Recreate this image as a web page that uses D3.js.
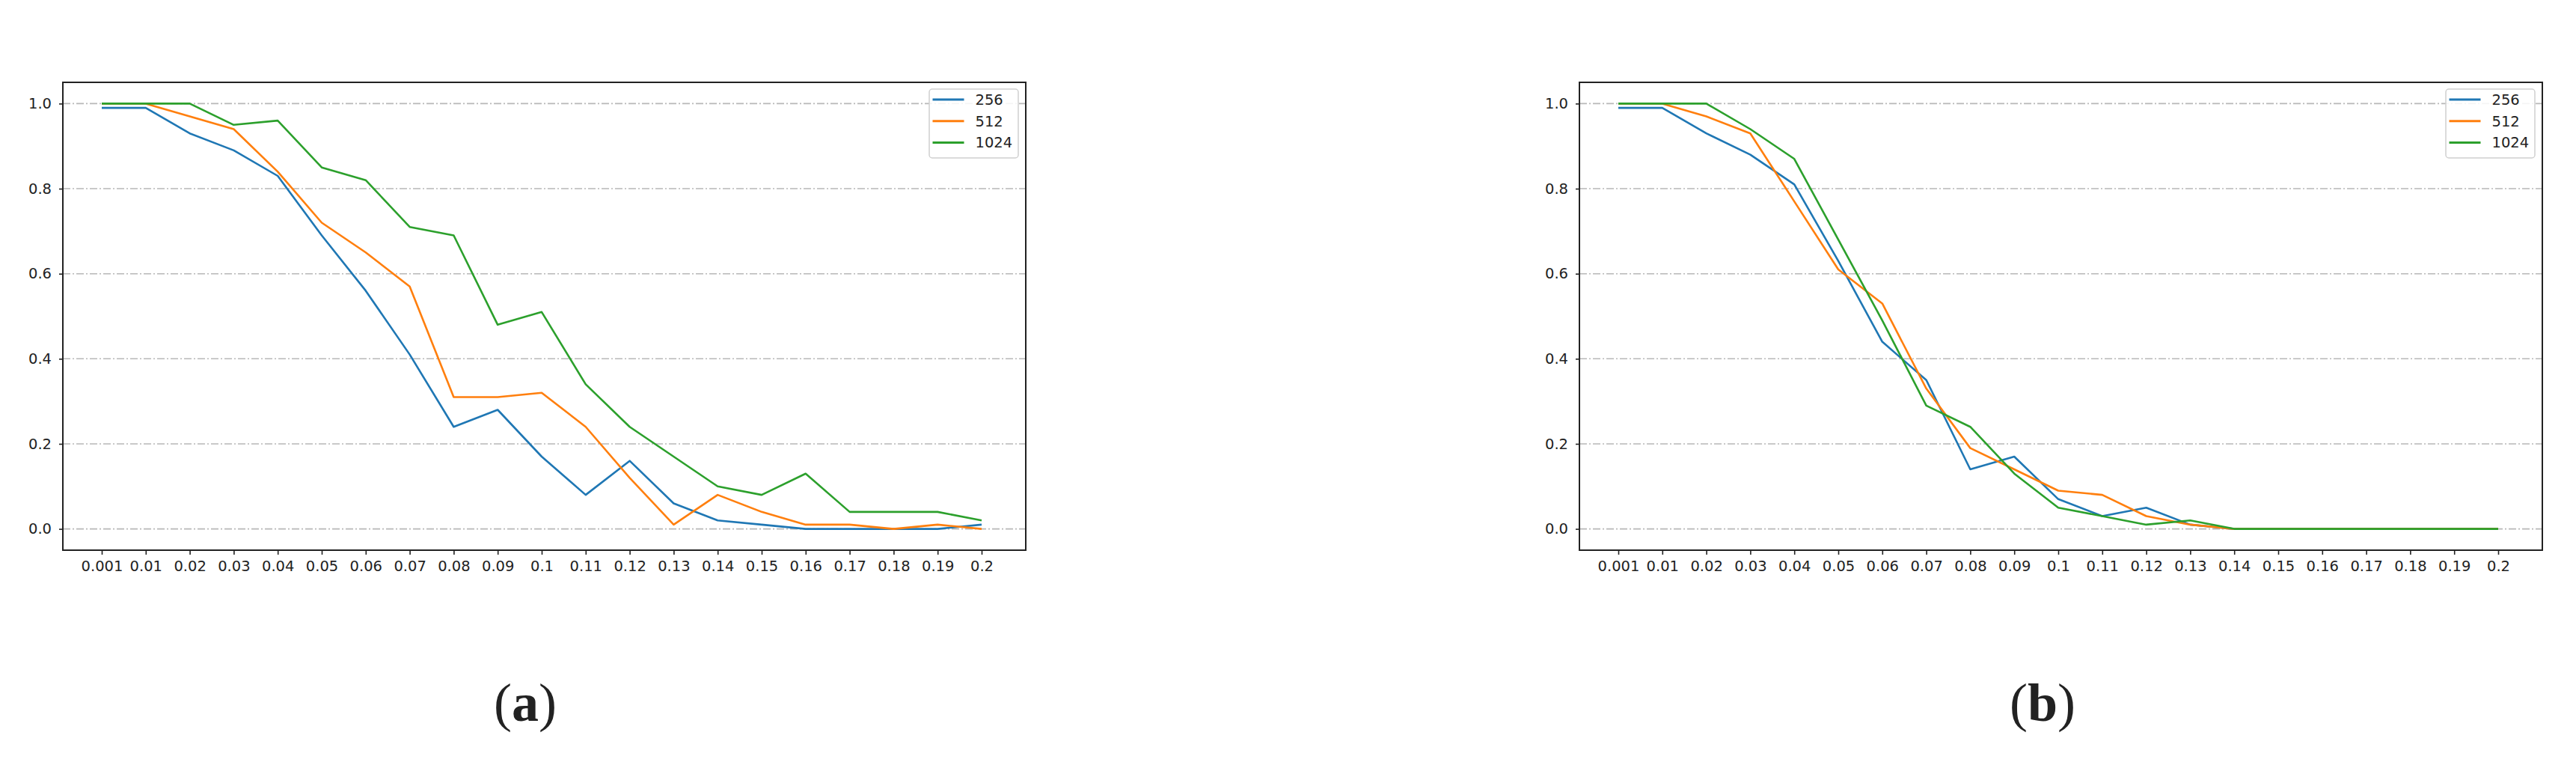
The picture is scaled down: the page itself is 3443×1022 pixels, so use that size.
<!DOCTYPE html>
<html>
<head>
<meta charset="utf-8">
<script src="https://cdn.jsdelivr.net/npm/d3@7"></script>
<style>
  body { margin: 0; background: #fff; }
  text { font-family: "DejaVu Sans", sans-serif; fill: #222; }
</style>
</head>
<body>
<div id="chart"></div>
<script>
// x categories (noise level)
const xLabels = ["0.001", "0.01", "0.02", "0.03", "0.04", "0.05", "0.06", "0.07", "0.08", "0.09", "0.1",
  "0.11", "0.12", "0.13", "0.14", "0.15", "0.16", "0.17", "0.18", "0.19", "0.2"];
const yTicks = [0, 0.2, 0.4, 0.6, 0.8, 1.0];
const seriesNames = ["256", "512", "1024"];
const colors = ["#1f77b4", "#ff7f0e", "#2ca02c"];

// panel (a)
const a256 = [0.99, 0.99, 0.93, 0.89, 0.83, 0.69, 0.56, 0.41, 0.24, 0.28, 0.17, 0.08, 0.16, 0.06, 0.02, 0.01, 0, 0, 0, 0, 0.01];
const a512 = [1.0, 1.0, 0.97, 0.94, 0.84, 0.72, 0.65, 0.57, 0.31, 0.31, 0.32, 0.24, 0.12, 0.01, 0.08, 0.04, 0.01, 0.01, 0, 0.01, 0];
const a1024 = [1.0, 1.0, 1.0, 0.95, 0.96, 0.85, 0.82, 0.71, 0.69, 0.48, 0.51, 0.34, 0.24, 0.17, 0.10, 0.08, 0.13, 0.04, 0.04, 0.04, 0.02];

// panel (b)
const b256 = [0.99, 0.99, 0.93, 0.88, 0.81, 0.63, 0.44, 0.35, 0.14, 0.17, 0.07, 0.03, 0.05, 0.01, 0, 0, 0, 0, 0, 0, 0];
const b512 = [1.0, 1.0, 0.97, 0.93, 0.77, 0.61, 0.53, 0.33, 0.19, 0.14, 0.09, 0.08, 0.03, 0.01, 0, 0, 0, 0, 0, 0, 0];
const b1024 = [1.0, 1.0, 1.0, 0.94, 0.87, 0.68, 0.49, 0.29, 0.24, 0.13, 0.05, 0.03, 0.01, 0.02, 0, 0, 0, 0, 0, 0, 0];

const panels = [
  { left: 84, caption: "a", captionX: 702, series: [a256, a512, a1024] },
  { left: 2111, caption: "b", captionX: 2730, series: [b256, b512, b1024] }
];

const W = 3443, H = 1022;
const plotTop = 110, pw = 1287, ph = 625;

const svg = d3.select("#chart").append("svg")
  .attr("width", W).attr("height", H);

const x = d3.scalePoint().domain(xLabels).range([52, pw - 59]);
const y = d3.scaleLinear().domain([-0.05, 1.05]).range([ph, 0]);

panels.forEach((p) => {
  const g = svg.append("g").attr("transform", `translate(${p.left},${plotTop})`);

  // grid
  g.selectAll(".grid").data(yTicks).enter().append("line")
    .attr("x1", 0).attr("x2", pw)
    .attr("y1", (d) => y(d)).attr("y2", (d) => y(d))
    .attr("stroke", "#b8b8b8").attr("stroke-width", 1.6)
    .attr("stroke-dasharray", "10,3,2,3");

  // lines
  const line = d3.line().x((d, i) => x(xLabels[i])).y((d) => y(d));
  p.series.forEach((s, k) => {
    g.append("path").datum(s)
      .attr("d", line)
      .attr("fill", "none")
      .attr("stroke", colors[k])
      .attr("stroke-width", 2.6)
      .attr("stroke-linejoin", "round");
  });

  // axes
  const xAxis = d3.axisBottom(x).tickSize(6).tickPadding(8);
  const yAxis = d3.axisLeft(y).tickValues(yTicks).tickFormat(d3.format(".1f")).tickSize(5).tickPadding(10);
  const gx = g.append("g").attr("transform", `translate(0,${ph})`).call(xAxis);
  const gy = g.append("g").call(yAxis);
  [gx, gy].forEach((ax) => {
    ax.select(".domain").remove();
    ax.selectAll("line").attr("stroke", "#222").attr("stroke-width", 1.6);
    ax.selectAll("text").style("font-size", "19.5px").attr("fill", "#222");
  });

  // frame
  g.append("rect").attr("width", pw).attr("height", ph)
    .attr("fill", "none").attr("stroke", "#222").attr("stroke-width", 2);

  // legend
  const lg = g.append("g").attr("transform", `translate(${pw - 129},9)`);
  lg.append("rect").attr("width", 119).attr("height", 92).attr("rx", 4)
    .attr("fill", "#fff").attr("fill-opacity", 0.85)
    .attr("stroke", "#d0d0d0").attr("stroke-width", 1.5);
  seriesNames.forEach((name, k) => {
    const yy = 14 + k * 28.7;
    lg.append("line").attr("x1", 4.5).attr("x2", 46.5).attr("y1", yy).attr("y2", yy)
      .attr("stroke", colors[k]).attr("stroke-width", 3);
    lg.append("text").attr("x", 61.5).attr("y", yy).attr("dy", "0.35em")
      .style("font-size", "19.5px").text(name);
  });

  // caption
  const cap = svg.append("text").attr("x", p.captionX).attr("y", 963)
    .attr("text-anchor", "middle")
    .style("font-family", "'Liberation Serif', 'DejaVu Serif', serif")
    .style("font-size", "72px").attr("fill", "#000");
  cap.append("tspan").text("(");
  cap.append("tspan").style("font-weight", "bold").text(p.caption);
  cap.append("tspan").text(")");
});
</script>
</body>
</html>
